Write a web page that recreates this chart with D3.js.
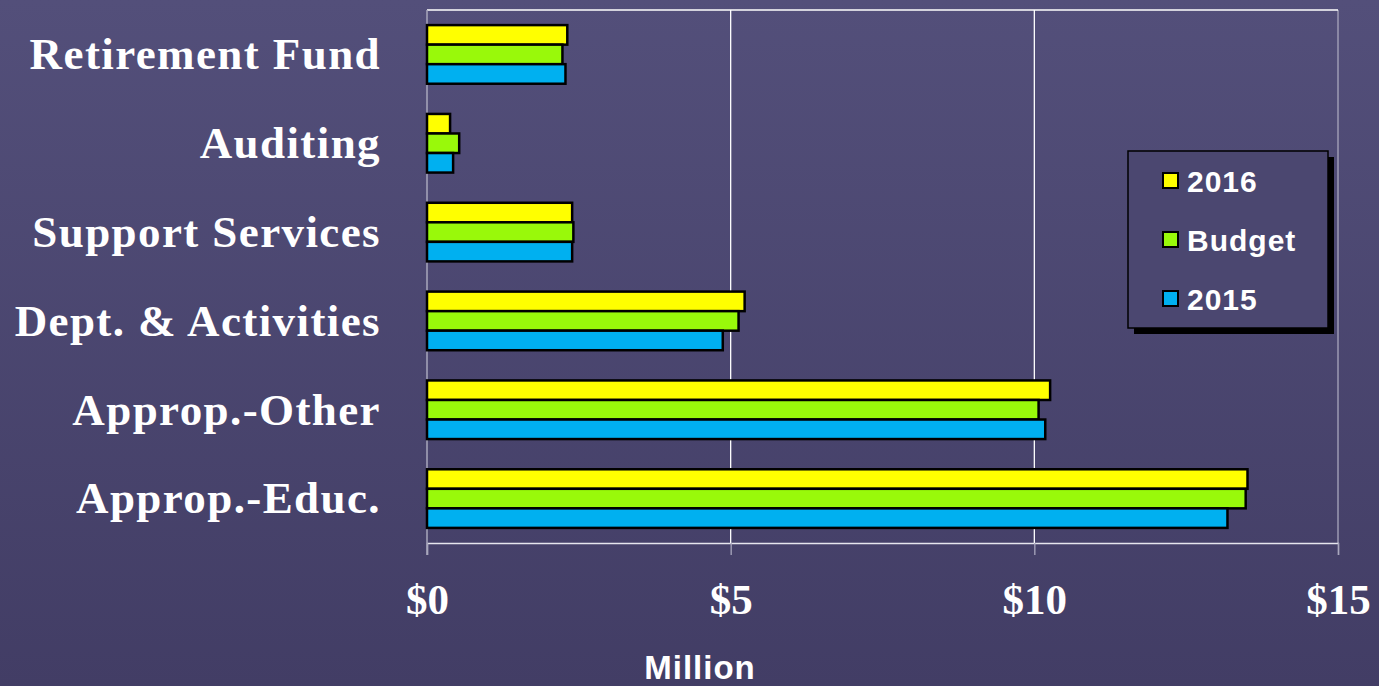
<!DOCTYPE html>
<html>
<head>
<meta charset="utf-8">
<script src="https://cdn.jsdelivr.net/npm/d3@7"></script>
<style>
  html, body { margin: 0; padding: 0; overflow: hidden; }
</style>
</head>
<body>
<div id="chart"></div>
<script>
// categories, top to bottom
var categories = ["Retirement Fund", "Auditing", "Support Services",
                  "Dept. & Activities", "Approp.-Other", "Approp.-Educ."];
var seriesNames = ["2016", "Budget", "2015"];
var seriesColors = ["#ffff00", "#99f90a", "#00b0f0"];
// values in $ million
var values2016   = [2.31, 0.38, 2.39, 5.23, 10.26, 13.51];
var valuesBudget = [2.23, 0.53, 2.41, 5.13, 10.07, 13.48];
var values2015   = [2.28, 0.43, 2.39, 4.87, 10.18, 13.18];
var tickValues = [0, 5, 10, 15];

var W = 1379, H = 686;
var margin = { top: 10, right: 41, bottom: 143, left: 427 };
var width = W - margin.left - margin.right,
    height = H - margin.top - margin.bottom;

var svg = d3.select("#chart").append("svg")
    .attr("width", W)
    .attr("height", H);

// background gradient
var grad = svg.append("defs").append("linearGradient")
    .attr("id", "bg").attr("x1", 0).attr("y1", 0).attr("x2", 0).attr("y2", 1);
grad.append("stop").attr("offset", "0%").attr("stop-color", "#534f7a");
grad.append("stop").attr("offset", "100%").attr("stop-color", "#423d65");
svg.append("rect").attr("width", W).attr("height", H).attr("fill", "url(#bg)");

var g = svg.append("g")
    .attr("transform", "translate(" + margin.left + "," + margin.top + ")");

var x = d3.scaleLinear().domain([0, 15]).range([0, width]);
var y = d3.scaleBand().domain(categories).range([0, height])
    .paddingInner(0.34).paddingOuter(0.17);
var ySub = d3.scaleBand().domain(seriesNames).range([0, y.bandwidth()]);

// gridlines
g.append("g")
  .selectAll("line")
  .data(tickValues.slice(1))
  .enter().append("line")
    .attr("x1", d => x(d)).attr("x2", d => x(d))
    .attr("y1", 0).attr("y2", height)
    .attr("stroke", d => d === 15 ? "#a9a7bd" : "#ffffff")
    .attr("stroke-width", 1.3);
g.append("line")
    .attr("x1", 0).attr("x2", width).attr("y1", 0).attr("y2", 0)
    .attr("stroke", "#ffffff").attr("stroke-width", 1.3);

// x axis
var xAxis = g.append("g")
    .attr("transform", "translate(0," + height + ")")
    .call(d3.axisBottom(x).tickValues(tickValues).tickSize(12).tickPadding(28)
      .tickFormat(d => "$" + d));
xAxis.select(".domain").attr("stroke", "#e6e6ee").attr("stroke-width", 1.3);
xAxis.selectAll(".tick line").attr("stroke", "#a9a7bd").attr("stroke-width", 1.3);
xAxis.selectAll(".tick text")
    .attr("fill", "#ffffff")
    .style("font-family", "'Liberation Serif', 'Times New Roman', serif")
    .style("font-weight", "bold")
    .style("font-size", "43px");

// y axis line
g.append("line")
    .attr("x1", 0).attr("x2", 0).attr("y1", 0).attr("y2", height + 12)
    .attr("stroke", "#a9a7bd").attr("stroke-width", 1.5);

// category labels
g.append("g")
  .selectAll("text")
  .data(categories)
  .enter().append("text")
    .attr("x", -46)
    .attr("y", d => y(d) + y.bandwidth() / 2)
    .attr("dy", "0.33em")
    .attr("text-anchor", "end")
    .attr("fill", "#ffffff")
    .style("font-family", "'Liberation Serif', 'Times New Roman', serif")
    .style("font-weight", "bold")
    .style("font-size", "45px")
    .style("letter-spacing", "1.4px")
    .text(d => d);

// bars
var seriesData = [values2016, valuesBudget, values2015];
seriesNames.forEach(function(name, si) {
  g.append("g")
    .selectAll("rect")
    .data(seriesData[si])
    .enter().append("rect")
      .attr("x", 0)
      .attr("y", (d, i) => y(categories[i]) + ySub(name))
      .attr("width", d => x(d))
      .attr("height", ySub.bandwidth())
      .attr("fill", seriesColors[si])
      .attr("stroke", "#000000")
      .attr("stroke-width", 2.5);
});

// axis title
svg.append("text")
    .attr("x", 700).attr("y", 679)
    .attr("text-anchor", "middle")
    .attr("fill", "#ffffff")
    .style("font-family", "'Liberation Sans', Arial, sans-serif")
    .style("font-weight", "bold")
    .style("font-size", "33px")
    .style("letter-spacing", "1px")
    .text("Million");

// legend
var legend = svg.append("g").attr("transform", "translate(1128,151)");
legend.append("rect")
    .attr("x", 6).attr("y", 6).attr("width", 200).attr("height", 177)
    .attr("fill", "#000000");
legend.append("rect")
    .attr("width", 200).attr("height", 177)
    .attr("fill", "#4b4770")
    .attr("stroke", "#000000").attr("stroke-width", 1.5);
var item = legend.selectAll(".item")
  .data(seriesNames)
  .enter().append("g")
    .attr("transform", (d, i) => "translate(0," + (30 + i * 59) + ")");
item.append("rect")
    .attr("x", 35).attr("y", -8).attr("width", 15).attr("height", 15)
    .attr("fill", (d, i) => seriesColors[i])
    .attr("stroke", "#000000").attr("stroke-width", 2);
item.append("text")
    .attr("x", 59).attr("y", 0).attr("dy", "0.36em")
    .attr("fill", "#ffffff")
    .style("font-family", "'Liberation Sans', Arial, sans-serif")
    .style("font-weight", "bold")
    .style("font-size", "30px")
    .style("letter-spacing", "1px")
    .text(d => d);
</script>
</body>
</html>
